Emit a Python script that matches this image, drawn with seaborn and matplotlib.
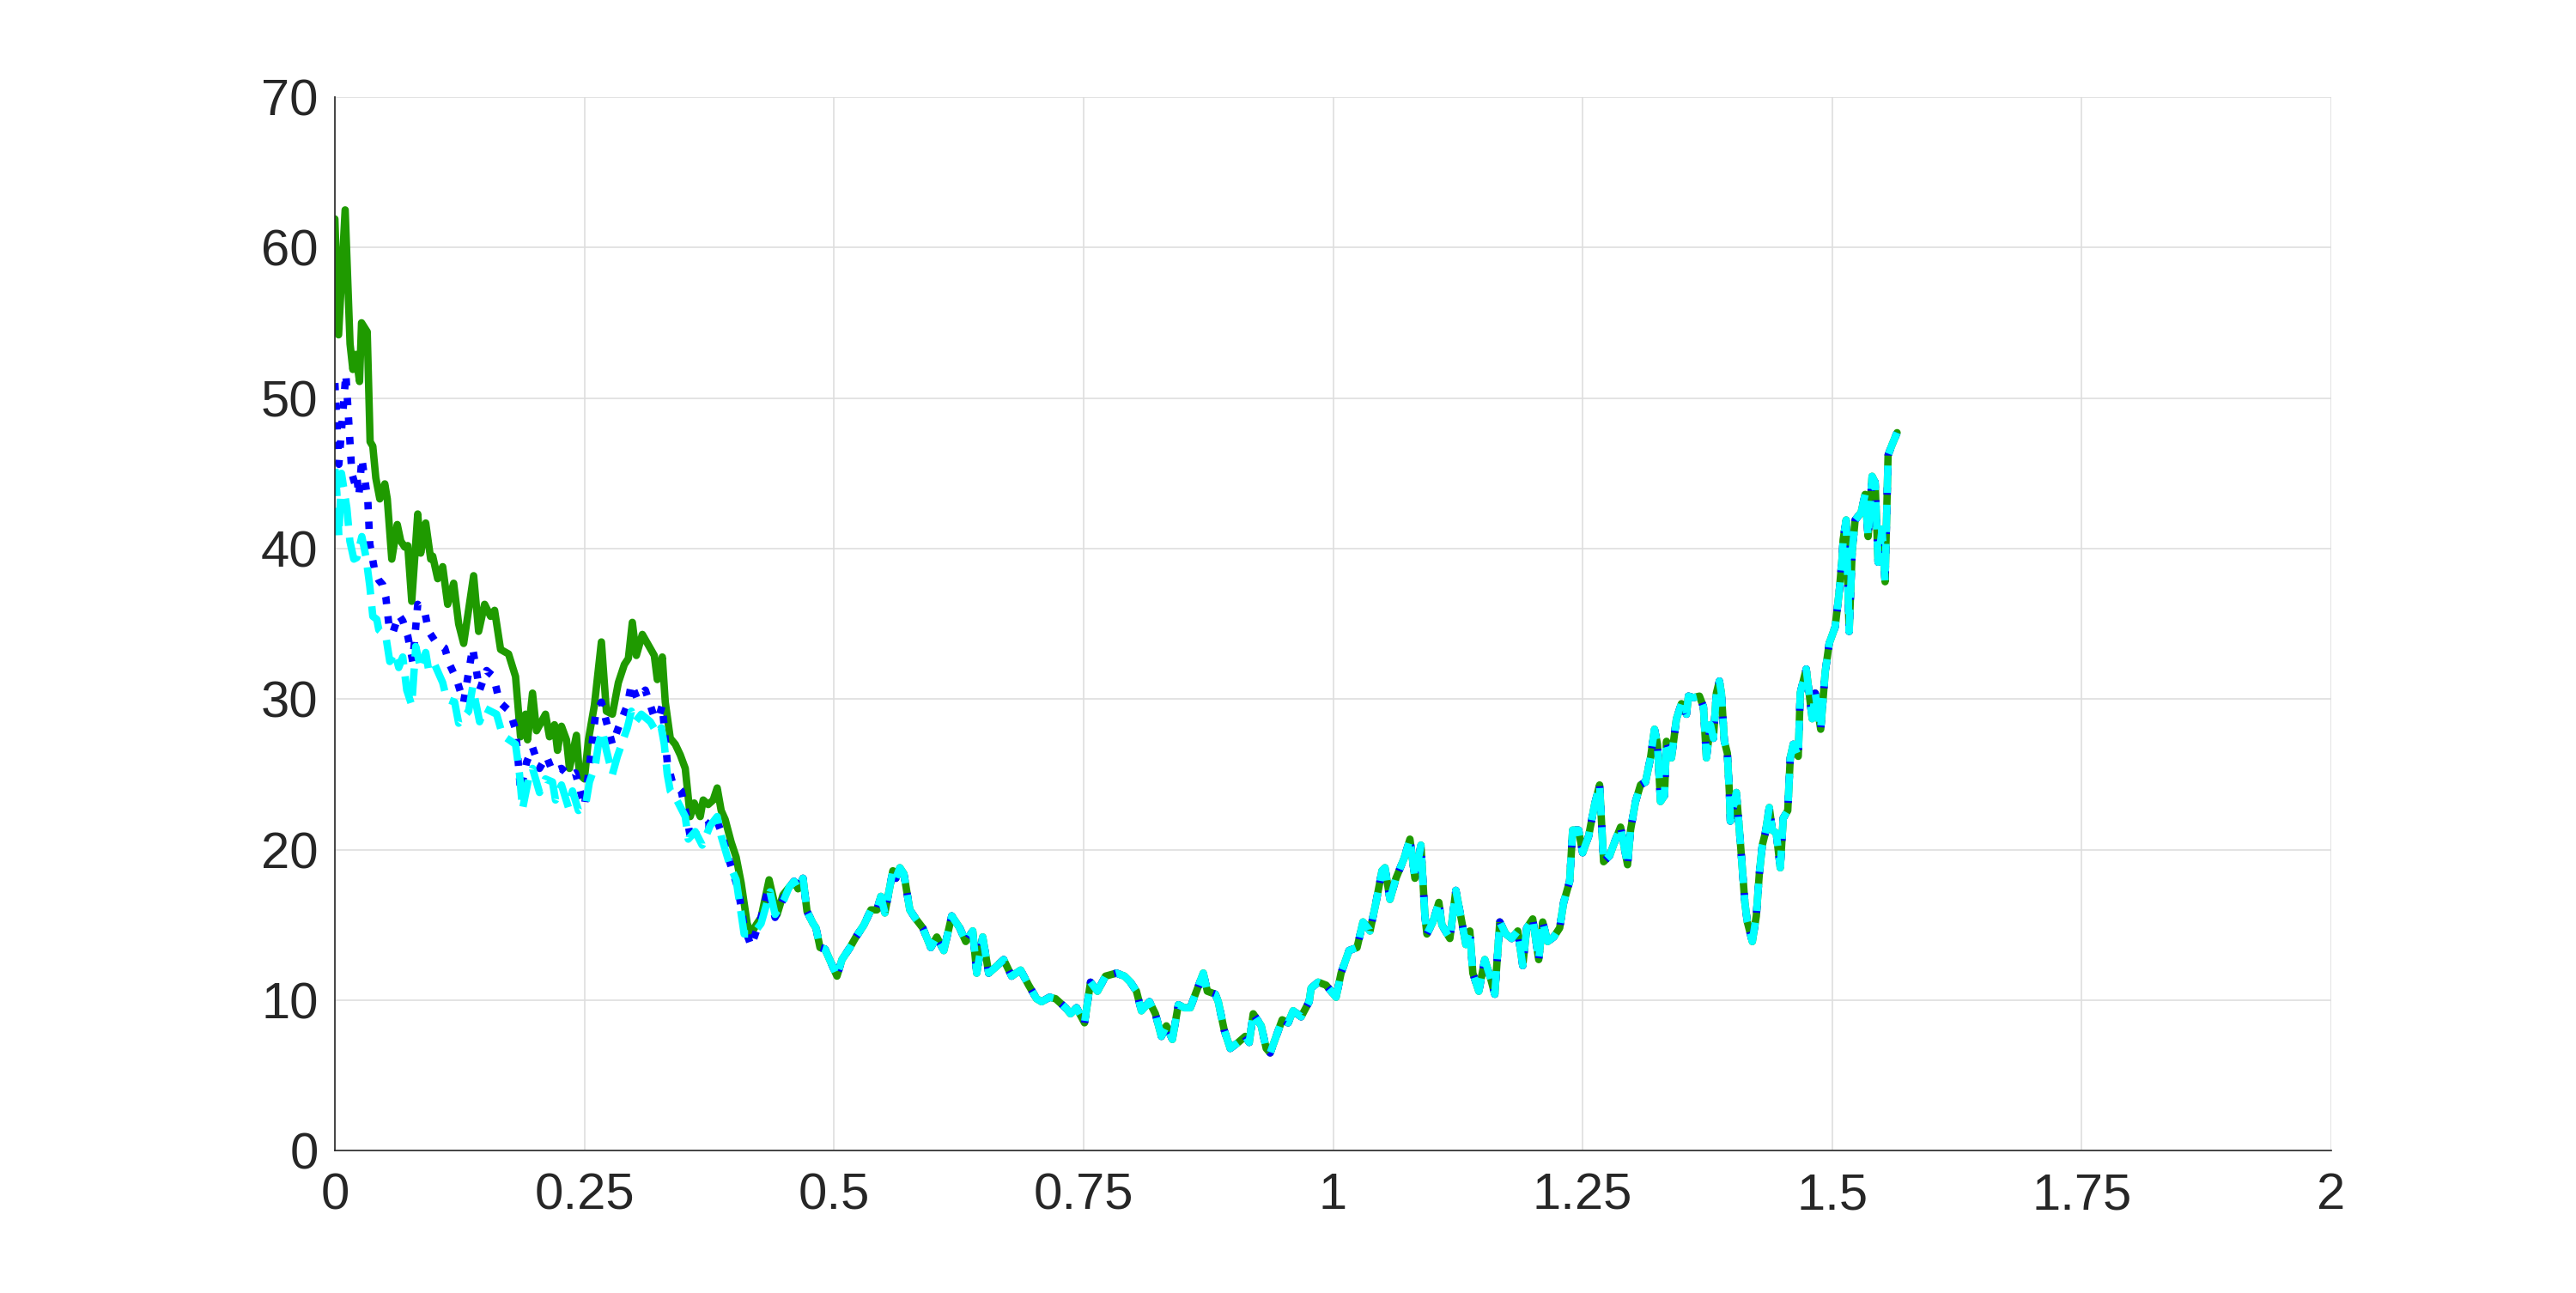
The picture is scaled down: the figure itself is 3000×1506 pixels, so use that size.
import numpy as np
import pandas as pd
import matplotlib
matplotlib.use("Agg")
import matplotlib.pyplot as plt
import seaborn as sns

# start of each series, where the three curves differ
x_green_head = [0.000, 0.0037, 0.0103, 0.0152, 0.018, 0.021, 0.0247, 0.0267, 0.0324, 0.0353,
                0.038, 0.041, 0.045, 0.050, 0.0525, 0.057, 0.0625, 0.066, 0.070, 0.073,
                0.077, 0.083, 0.086, 0.091, 0.096, 0.098, 0.103, 0.108, 0.113, 0.119,
                0.124, 0.129, 0.139, 0.144, 0.150, 0.156, 0.160, 0.166, 0.174, 0.181,
                0.186, 0.191, 0.193, 0.198, 0.202, 0.211, 0.215, 0.220, 0.223, 0.227,
                0.232, 0.235, 0.242, 0.245, 0.250, 0.254, 0.260, 0.267, 0.272, 0.278,
                0.284, 0.290, 0.294, 0.298, 0.302, 0.308, 0.314, 0.320, 0.323, 0.328,
                0.331, 0.336, 0.341, 0.346, 0.351, 0.356, 0.360, 0.366, 0.369, 0.374,
                0.379, 0.383, 0.387, 0.391, 0.397, 0.402, 0.407, 0.413, 0.417, 0.422,
                0.427, 0.435, 0.443, 0.449]
green_head = [61.9, 54.2, 62.5, 53.6, 51.9, 52.9, 51.1, 55.0, 54.4, 47.1,
              46.8, 44.7, 43.3, 44.3, 43.3, 39.3, 41.6, 40.5, 40.1, 40.2,
              36.5, 42.3, 39.7, 41.7, 39.3, 39.5, 38.0, 38.8, 36.3, 37.7,
              35.0, 33.7, 38.2, 34.5, 36.3, 35.5, 35.9, 33.3, 33.0, 31.5,
              27.5, 29.0, 27.3, 30.4, 27.9, 29.0, 27.5, 28.3, 26.6, 28.2,
              27.3, 25.4, 27.6, 25.0, 24.7, 27.3, 29.6, 33.8, 29.2, 29.0,
              31.1, 32.3, 32.7, 35.1, 32.9, 34.3, 33.6, 32.9, 31.3, 32.8,
              29.8, 27.4, 27.0, 26.3, 25.4, 22.2, 23.1, 22.2, 23.3, 23.0,
              23.3, 24.1, 22.6, 22.0, 20.5, 19.5, 17.8, 15.1, 14.4, 15.0,
              15.5, 18.0, 15.7, 17.0]

x_blue_head = [0.000, 0.004, 0.011, 0.017, 0.020, 0.022, 0.024, 0.027, 0.033, 0.035,
               0.040, 0.044, 0.048, 0.051, 0.054, 0.058, 0.064, 0.068, 0.073, 0.078,
               0.083, 0.090, 0.094, 0.101, 0.110, 0.115, 0.122, 0.129, 0.138, 0.145,
               0.152, 0.159, 0.165, 0.175, 0.181, 0.186, 0.192, 0.198, 0.205, 0.212,
               0.218, 0.227, 0.235, 0.241, 0.250, 0.254, 0.261, 0.267, 0.272, 0.278,
               0.284, 0.293, 0.297, 0.303, 0.311, 0.319, 0.324, 0.328, 0.333, 0.338,
               0.347, 0.353, 0.357, 0.364, 0.373, 0.381, 0.387, 0.394, 0.404, 0.410,
               0.417, 0.427, 0.434, 0.441, 0.449]
blue_head = [51.0, 45.6, 51.6, 45.0, 44.3, 44.8, 43.5, 46.0, 43.2, 40.3,
             38.5, 37.9, 37.6, 36.8, 35.0, 34.4, 35.6, 35.2, 34.2, 32.5,
             36.3, 35.8, 34.5, 33.8, 33.4, 32.3, 31.3, 29.8, 33.4, 30.6,
             31.9, 31.5, 29.8, 29.2, 28.0, 23.9, 25.8, 26.8, 25.4, 26.2,
             25.2, 25.4, 24.9, 25.1, 22.9, 25.0, 28.9, 29.8, 28.5, 27.0,
             28.1, 29.6, 31.0, 30.0, 30.6, 29.0, 28.7, 29.6, 25.8, 24.5,
             23.9, 22.0, 20.5, 21.6, 21.6, 22.2, 21.2, 19.5, 17.4, 14.9,
             13.6, 15.5, 17.4, 15.5, 16.7]

x_cyan_head = [0.000, 0.002, 0.004, 0.0066, 0.012, 0.015, 0.019, 0.022, 0.027, 0.031,
               0.035, 0.038, 0.042, 0.044, 0.051, 0.055, 0.060, 0.064, 0.068, 0.072,
               0.077, 0.081, 0.086, 0.091, 0.094, 0.100, 0.108, 0.112, 0.120, 0.124,
               0.134, 0.138, 0.145, 0.150, 0.162, 0.168, 0.181, 0.185, 0.188, 0.194,
               0.198, 0.205, 0.211, 0.218, 0.221, 0.227, 0.234, 0.238, 0.244, 0.251,
               0.255, 0.261, 0.264, 0.268, 0.272, 0.278, 0.283, 0.293, 0.297, 0.301,
               0.307, 0.316, 0.323, 0.327, 0.330, 0.333, 0.336, 0.341, 0.351, 0.354,
               0.361, 0.368, 0.376, 0.383, 0.387, 0.396, 0.402, 0.410, 0.419, 0.427,
               0.436, 0.441, 0.450]
cyan_head = [45.3, 43.7, 40.8, 45.0, 42.7, 40.5, 39.3, 39.4, 40.8, 39.5,
             37.5, 35.5, 35.3, 34.6, 34.2, 32.5, 33.1, 32.1, 32.8, 30.6,
             29.6, 33.5, 32.0, 33.1, 31.9, 32.3, 31.1, 30.0, 29.8, 28.4,
             29.2, 30.8, 28.5, 29.4, 29.0, 27.6, 27.0, 25.0, 22.7, 24.7,
             25.4, 23.8, 24.7, 24.5, 23.3, 24.3, 22.8, 23.9, 22.6, 22.9,
             24.5, 25.6, 27.0, 27.9, 26.6, 25.0, 26.2, 28.1, 29.2, 28.5,
             29.0, 28.5, 27.7, 28.1, 27.0, 25.0, 23.9, 23.5, 22.2, 20.7,
             21.2, 20.3, 21.6, 22.2, 20.9, 18.9, 18.0, 14.4, 14.4, 15.1,
             17.2, 15.7, 16.7]

# from about 0.45 on the three curves lie on top of each other
x_tail = [0.455, 0.460, 0.464, 0.469, 0.473, 0.479, 0.482, 0.486, 0.491, 0.497,
          0.503, 0.508, 0.516, 0.522, 0.530, 0.537, 0.543, 0.547, 0.551, 0.557,
          0.559, 0.562, 0.566, 0.570, 0.576, 0.582, 0.589, 0.597, 0.603, 0.610,
          0.618, 0.626, 0.632, 0.639, 0.643, 0.649, 0.655, 0.662, 0.670, 0.678,
          0.687, 0.695, 0.703, 0.708, 0.716, 0.722, 0.732, 0.737, 0.743, 0.751,
          0.757, 0.764, 0.772, 0.783, 0.791, 0.797, 0.803, 0.808, 0.816, 0.822,
          0.828, 0.833, 0.839, 0.845, 0.851, 0.857, 0.862, 0.870, 0.874, 0.882,
          0.885, 0.891, 0.897, 0.905, 0.912, 0.916, 0.920, 0.928, 0.933, 0.937,
          0.943, 0.949, 0.955, 0.960, 0.968, 0.976, 0.978, 0.985, 0.993, 1.003,
          1.008, 1.016, 1.024, 1.030, 1.037, 1.043, 1.049, 1.052, 1.057, 1.063,
          1.071, 1.077, 1.082, 1.088, 1.092, 1.094, 1.100, 1.106, 1.109, 1.117,
          1.123, 1.129, 1.133, 1.137, 1.140, 1.146, 1.152, 1.158, 1.162, 1.167,
          1.173, 1.179, 1.185, 1.190, 1.194, 1.200, 1.206, 1.210, 1.215, 1.221,
          1.227, 1.231, 1.237, 1.240, 1.246, 1.250, 1.256, 1.262, 1.267, 1.271,
          1.277, 1.282, 1.288, 1.295, 1.298, 1.303, 1.308, 1.313, 1.318, 1.322,
          1.325, 1.328, 1.332, 1.334, 1.339, 1.344, 1.349, 1.354, 1.356, 1.361,
          1.367, 1.371, 1.374, 1.378, 1.381, 1.384, 1.387, 1.389, 1.392, 1.395,
          1.397, 1.398, 1.404, 1.408, 1.4125, 1.415, 1.420, 1.424, 1.427, 1.430,
          1.433, 1.437, 1.440, 1.444, 1.448, 1.451, 1.4555, 1.458, 1.461, 1.466,
          1.468, 1.474, 1.480, 1.483, 1.4885, 1.493, 1.497, 1.503, 1.507, 1.510,
          1.511, 1.514, 1.517, 1.520, 1.523, 1.529, 1.533, 1.536, 1.540, 1.543,
          1.546, 1.550, 1.553, 1.556, 1.560, 1.565]
y_tail = [17.5, 17.9, 17.4, 18.1, 15.9, 15.1, 14.8, 13.5, 13.4, 12.5,
          11.6, 12.7, 13.5, 14.2, 15.0, 16.0, 16.0, 16.9, 15.8, 17.9,
          18.6, 18.1, 18.8, 18.4, 16.0, 15.4, 14.8, 13.5, 14.2, 13.3,
          15.6, 14.8, 13.9, 14.6, 11.8, 14.2, 11.8, 12.2, 12.7, 11.6,
          12.0, 11.0, 10.1, 9.9, 10.2, 10.1, 9.5, 9.1, 9.5, 8.5,
          11.2, 10.6, 11.6, 11.8, 11.6, 11.2, 10.6, 9.3, 9.9, 9.1,
          7.6, 8.3, 7.4, 9.7, 9.5, 9.5, 10.4, 11.8, 10.6, 10.4,
          9.9, 8.0, 6.8, 7.2, 7.6, 7.2, 9.1, 8.3, 6.8, 6.5,
          7.6, 8.7, 8.5, 9.3, 8.9, 9.9, 10.8, 11.2, 11.0, 10.2,
          11.8, 13.3, 13.5, 15.2, 14.6, 16.5, 18.6, 18.8, 16.7, 18.1,
          19.4, 20.7, 18.1, 20.3, 15.6, 14.4, 15.2, 16.5, 15.0, 14.1,
          17.3, 15.2, 13.7, 14.6, 11.8, 10.6, 12.7, 11.4, 10.4, 15.2,
          14.4, 14.1, 14.6, 12.3, 14.8, 15.4, 12.7, 15.2, 13.9, 14.2,
          14.8, 16.5, 17.9, 21.3, 21.3, 19.8, 20.9, 23.0, 24.3, 19.2,
          19.6, 20.5, 21.5, 19.0, 21.3, 23.2, 24.3, 24.5, 26.1, 28.0,
          27.0, 23.2, 23.6, 27.2, 26.1, 28.7, 29.7, 29.0, 30.2, 30.1,
          30.2, 29.5, 26.1, 28.3, 27.4, 30.4, 31.2, 30.4, 27.2, 26.4,
          23.8, 21.9, 23.8, 20.5, 16.5, 15.2, 13.9, 15.6, 18.4, 20.3,
          21.1, 22.8, 21.3, 21.1, 18.8, 22.1, 22.6, 26.1, 27.0, 26.2,
          30.4, 32.0, 28.7, 30.4, 28.0, 31.8, 33.7, 34.8, 37.1, 39.4,
          40.6, 41.9, 34.5, 39.8, 41.9, 42.4, 43.6, 40.8, 44.8, 44.4,
          39.1, 41.3, 37.8, 46.2, 46.9, 47.7]

green_x = np.concatenate([x_green_head, x_tail])
green_y = np.concatenate([green_head, y_tail])
blue_x = np.concatenate([x_blue_head, x_tail])
blue_y = np.concatenate([blue_head, y_tail])
cyan_x = np.concatenate([x_cyan_head, x_tail])
cyan_y = np.concatenate([cyan_head, y_tail])

x_ticks = [0, 0.25, 0.5, 0.75, 1, 1.25, 1.5, 1.75, 2]
x_labels = ['0', '0.25', '0.5', '0.75', '1', '1.25', '1.5', '1.75', '2']
y_ticks = [0, 10, 20, 30, 40, 50, 60, 70]

sns.set_theme(style="white")
plt.rcParams['font.family'] = ['Liberation Sans', 'DejaVu Sans']

fig = plt.figure(figsize=(15, 7.53), dpi=200)
ax = fig.add_axes([0.13, 0.11, 0.775, 0.815])

dark = '#262626'
lw = 3.1
sns.lineplot(x=green_x, y=green_y, ax=ax, color='#1f9a00', lw=lw, linestyle='-',
             sort=False, estimator=None)
sns.lineplot(x=blue_x, y=blue_y, ax=ax, color='#0000ff', lw=lw, linestyle=':',
             sort=False, estimator=None)
sns.lineplot(x=cyan_x, y=cyan_y, ax=ax, color='#00ffff', lw=lw, linestyle='--',
             sort=False, estimator=None)

ax.set_xlim(0, 2)
ax.set_ylim(0, 70)
ax.set_xticks(x_ticks)
ax.set_xticklabels(x_labels)
ax.set_yticks(y_ticks)

ax.grid(True, color='#dedede', lw=0.6)
ax.set_axisbelow(True)
for side in ['top', 'right']:
    ax.spines[side].set_visible(False)
for side in ['left', 'bottom']:
    ax.spines[side].set_color(dark)
    ax.spines[side].set_linewidth(0.6)

ax.tick_params(axis='both', direction='in', length=8.3, width=0.6, color=dark,
               labelcolor=dark, labelsize=21.5)
ax.tick_params(axis='x', pad=9)
ax.tick_params(axis='y', pad=7)
ax.set_xlabel('')
ax.set_ylabel('')

fig.savefig('out.png', dpi=200, facecolor='white')
